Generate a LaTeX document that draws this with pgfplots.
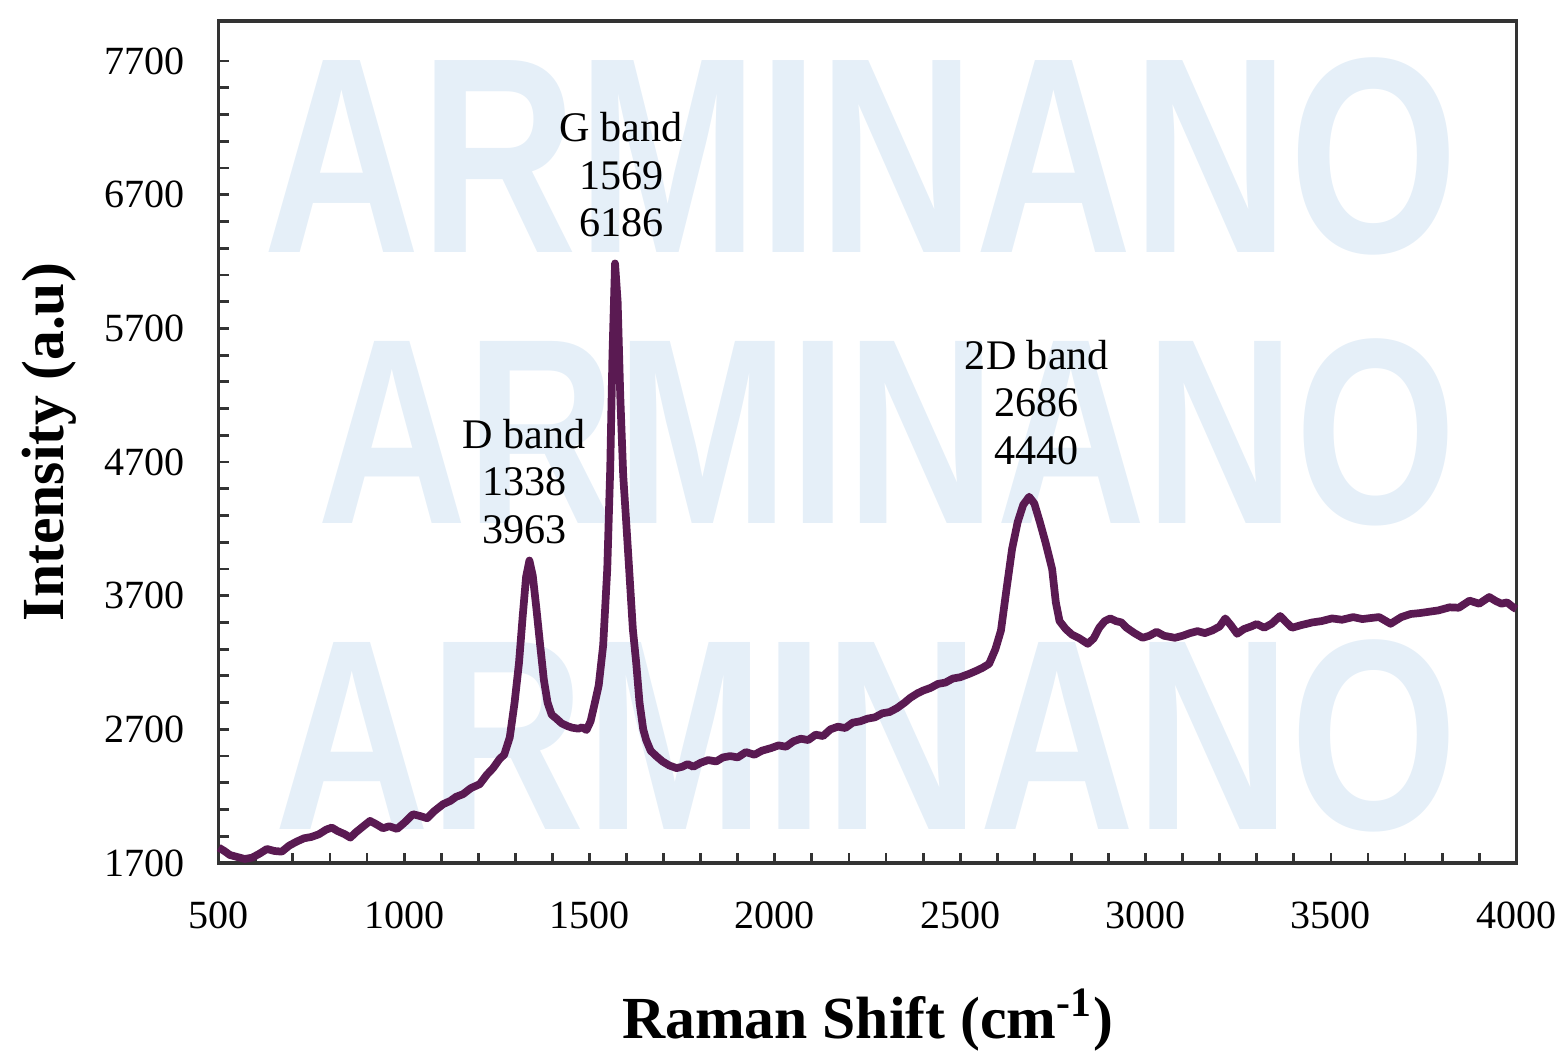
\documentclass[border=0pt]{standalone}
\usepackage{pgfplots}
\pgfplotsset{compat=1.18}
\usepackage{fontspec}
\setmainfont{Liberation Serif}
\newfontfamily\wmfont{Liberation Sans}
\definecolor{spec}{HTML}{5A1A52}
\definecolor{wm}{HTML}{E5EFF8}
\definecolor{axc}{HTML}{333333}
\begin{document}
\begin{tikzpicture}
\begin{axis}[name=ax, scale only axis, width=12.99cm, height=8.43cm,
  xmin=500, xmax=4000, ymin=1700, ymax=8000,
  xtick={500,1000,...,4000}, ytick={1700,2700,...,7700},
  minor x tick num=4, minor y tick num=4,
  tick pos=left, tick align=inside,
  major tick length=0.1cm, minor tick length=0.1cm,
  axis line style={draw=axc, line width=0.9pt},
  every tick/.style={axc, line width=0.8pt},
  /pgf/number format/assume math mode=true,
  /pgf/number format/set thousands separator={},
  ticklabel style={font=\fontsize{11.4}{13}\selectfont},
  xticklabel style={yshift=-0.27cm},
  yticklabel style={xshift=-0.22cm},
  xlabel={\textbf{Raman Shift (cm\textsuperscript{-1})}},
  ylabel={\textbf{Intensity (a.u)}},
  label style={font=\fontsize{17}{20}\selectfont},
  xlabel style={at={(axis description cs:0.5,-0.209)}, anchor=base},
  ylabel style={at={(axis description cs:-0.1198,0.5)}, anchor=base},
  clip=false,
]
\node[wm, inner sep=0] at (rel axis cs:0.495,0.839) {\resizebox{11.95cm}{1.95cm}{\wmfont\bfseries ARMINANO}};
\node[wm, inner sep=0] at (rel axis cs:0.515,0.511) {\resizebox{11.4cm}{1.85cm}{\wmfont\bfseries ARMINANO}};
\node[wm, inner sep=0] at (rel axis cs:0.499,0.151) {\resizebox{11.85cm}{1.9cm}{\wmfont\bfseries ARMINANO}};
\addplot[spec, line width=2.2pt, line join=round] table {
500 1815
515 1790
530 1760
550 1745
570 1730
590 1740
610 1770
630 1805
650 1790
670 1785
690 1830
710 1860
730 1885
750 1895
770 1915
790 1950
805 1965
820 1940
840 1915
855 1890
870 1930
890 1975
908 2015
925 1990
943 1960
960 1975
981 1955
1000 2000
1024 2065
1045 2050
1062 2035
1080 2085
1105 2140
1125 2165
1140 2195
1159 2215
1180 2260
1204 2290
1223 2360
1240 2410
1258 2480
1270 2510
1285 2640
1298 2900
1310 3200
1320 3550
1329 3840
1338 3963
1347 3850
1357 3600
1367 3330
1377 3070
1387 2900
1398 2810
1411 2780
1425 2745
1440 2725
1454 2712
1470 2705
1480 2715
1492 2695
1503 2760
1513 2880
1525 3030
1537 3330
1548 3900
1556 4650
1562 5500
1569 6186
1576 5900
1583 5200
1591 4600
1598 4300
1607 3900
1617 3450
1626 3200
1635 2900
1645 2700
1653 2620
1665 2540
1680 2500
1697 2460
1715 2430
1735 2410
1750 2420
1765 2440
1780 2420
1800 2450
1820 2470
1842 2460
1860 2490
1880 2500
1900 2490
1922 2530
1945 2510
1965 2540
1990 2560
2010 2580
2030 2570
2050 2610
2070 2630
2090 2620
2110 2660
2130 2650
2150 2700
2170 2720
2190 2710
2210 2750
2230 2760
2250 2780
2270 2790
2290 2820
2310 2830
2330 2860
2350 2900
2365 2935
2385 2970
2400 2990
2420 3010
2440 3040
2460 3050
2480 3080
2500 3090
2524 3115
2545 3140
2560 3160
2578 3190
2595 3300
2610 3440
2625 3750
2640 4050
2655 4250
2670 4380
2686 4440
2700 4390
2715 4250
2730 4100
2748 3900
2758 3650
2768 3510
2785 3450
2801 3410
2822 3380
2844 3340
2860 3380
2875 3460
2890 3510
2905 3530
2920 3510
2935 3500
2949 3460
2970 3420
2992 3385
3010 3400
3030 3430
3050 3400
3079 3385
3100 3400
3120 3420
3140 3435
3160 3420
3180 3440
3200 3470
3215 3530
3230 3480
3247 3415
3265 3450
3285 3470
3300 3488
3320 3460
3340 3490
3363 3548
3380 3500
3395 3460
3420 3480
3450 3500
3475 3510
3503 3530
3530 3520
3560 3540
3585 3525
3608 3533
3630 3540
3661 3490
3690 3540
3715 3563
3740 3570
3765 3580
3790 3590
3820 3613
3845 3610
3874 3663
3900 3640
3927 3690
3945 3660
3960 3640
3975 3650
3992 3613
4000 3600
};
\node[align=center, font=\fontsize{12}{13.6}\selectfont] at (axis cs:1324,4555) {D band\\1338\\3963};
\node[align=center, font=\fontsize{12}{13.6}\selectfont] at (axis cs:1586,6850) {G band\\1569\\6186};
\node[align=center, font=\fontsize{12}{13.6}\selectfont] at (axis cs:2707,5145) {2D band\\2686\\4440};
\end{axis}
\path ([shift={(-2.19cm,-1.85cm)}]ax.south west) rectangle ([shift={(0.50cm,0.21cm)}]ax.north east);
\end{tikzpicture}
\end{document}
